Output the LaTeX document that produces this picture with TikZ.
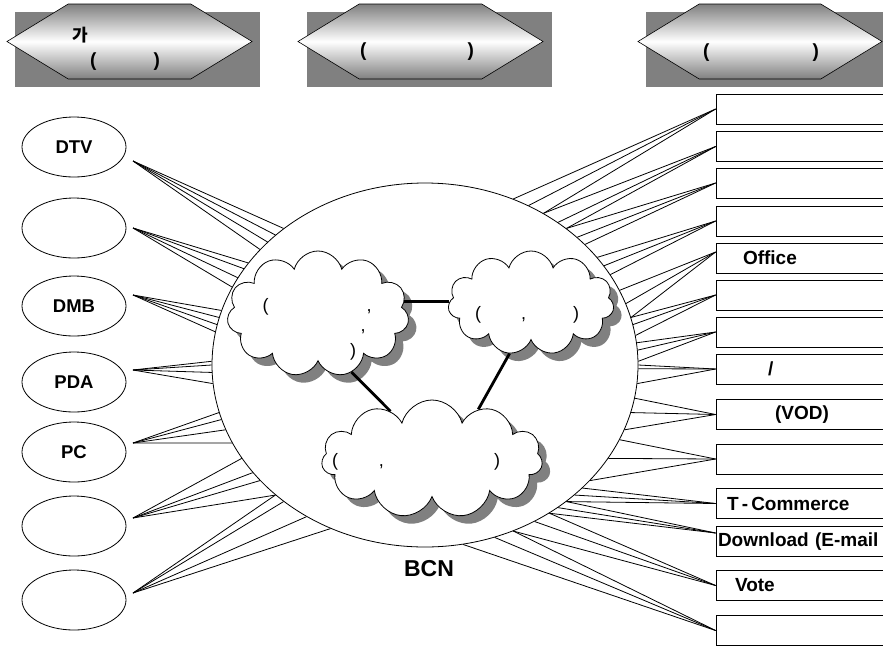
\documentclass[tikz,border=0pt]{standalone}
\usepackage{fontspec}
\setmainfont{Liberation Sans}
\newfontfamily\krfont{Noto Sans CJK KR}
\usepackage{tikz}
\usetikzlibrary{shapes}
\usetikzlibrary{shadows}

\begin{document}
\begin{tikzpicture}[x=1pt,y=-1pt,line width=0.8pt]
\tikzstyle{back}=[fill=gray]
\tikzstyle{hexa}=[signal, signal to=west and east, signal pointer angle=63, draw, line width=0.6pt,
  top color=gray, bottom color=gray, middle color=white, minimum width=245, minimum height=75, inner sep=0]
\tikzstyle{htxt}=[font=\bfseries\fontsize{19}{19}\selectfont, inner sep=0]
\tikzstyle{dev}=[ellipse, draw, minimum width=104, minimum height=60, inner sep=0, font=\bfseries\fontsize{18.5}{18.5}\selectfont]
\tikzstyle{svc}=[rectangle, draw, text width=171, minimum height=30, inner xsep=2, inner ysep=0, align=left, font=\bfseries\fontsize{19}{19}\selectfont]
\tikzstyle{net}=[cloud, cloud puffs=11, cloud ignores aspect, draw, fill=white, inner sep=0,
  drop shadow={shadow xshift=8pt, shadow yshift=-8pt, fill=gray, opacity=1}]
\tikzstyle{ntxt}=[font=\fontsize{18}{18}\selectfont, inner sep=0]
\tikzstyle{link}=[line width=2.8pt]
\useasboundingbox (0,0) rectangle (883,646);

% headers
\fill[back] (15,12) rectangle (260,87);
\fill[back] (307,12) rectangle (552,87);
\fill[back] (646,12) rectangle (890,87);
\node[hexa] (hd1) at (129.5,41.5) {};
\node[hexa] (hd2) at (420.5,41.5) {};
\node[hexa, minimum width=244] (hd3) at (760,41.5) {};
\node[htxt, font=\krfont\bfseries\fontsize{17}{17}\selectfont] at (80,35) {가};
\node[htxt] at (125,62) {(\hspace{57pt})};
\node[htxt] at (417,52) {(\hspace{101pt})};
\node[htxt] at (761,53) {(\hspace{103pt})};

% devices
\node[dev] (dv1) at (74,147) {\raisebox{-10pt}{DTV}};
\node[dev] (dv2) at (74,228) {};
\node[dev] (dv3) at (74,306) {DMB\hspace{24pt}};
\node[dev] (dv4) at (74,382) {PDA};
\node[dev] (dv5) at (74,452) {PC\hspace{8pt}};
\node[dev] (dv6) at (74,526) {};
\node[dev] (dv7) at (74,600) {};
\coordinate (hb1) at (133,161);
\coordinate (hb2) at (133,228);
\coordinate (hb3) at (133,295);
\coordinate (hb4) at (133,370);
\coordinate (hb5) at (133,443);
\coordinate (hb6) at (133,518);
\coordinate (hb7) at (133,593);

% services
\node[svc] (sv1) at (803.5,109) {};
\node[svc] (sv2) at (803.5,146.5) {};
\node[svc] (sv3) at (803.5,183) {};
\node[svc] (sv4) at (803.5,221) {};
\node[svc] (sv5) at (803.5,258) {\hspace*{25pt}Office};
\node[svc] (sv6) at (803.5,295) {};
\node[svc] (sv7) at (803.5,332) {};
\node[svc] (sv8) at (803.5,369) {\hspace*{50pt}/};
\node[svc] (sv9) at (803.5,414.5) {\hspace*{57pt}(VOD)};
\node[svc] (sv10) at (803.5,459) {};
\node[svc] (sv11) at (803.5,503.5) {\hspace*{9pt}T\,-\,Commerce};
\node[svc] (sv12) at (803.5,541.5) {Download (E-mail};
\node[svc] (sv13) at (803.5,585.5) {\hspace*{17pt}Vote};
\node[svc] (sv14) at (803.5,630.5) {};

% network
\node[ellipse, draw, minimum width=426, minimum height=364, inner sep=0] (bcn) at (425,365) {};
\node[font=\bfseries\fontsize{23}{23}\selectfont] (bcnname) at (429,569) {BCN};

\foreach \h/\angs in {hb1/{136,139,142,145}, hb2/{150,152.7,155.2,158.3}, hb3/{165,167,169,171},
    hb4/{179,180.5,182.7,185.4}, hb5/{193.6,195.7,198.4,202.8}, hb6/{207.4,212.2,215,221.2},
    hb7/{221.2,224.2,232.5,240.5}}
  \foreach \a in \angs
    \draw (\h) -- (bcn.\a);

\foreach \s/\dy/\angs in {sv1/0/{62,57,52}, sv2/0/{52,47.5,44}, sv3/0/{44,40.5,37.5}, sv4/0/{32,29,26},
    sv5/6/{21,17,13}, sv6/0/{13.6,11.5,8.8}, sv7/0/{6.7,4.8,1}, sv8/0/{0.8,-1.1,-5.1},
    sv9/0/{-9,-13.3,-18}, sv10/0/{-21.6,-27,-35}, sv11/0/{-38,-41,-44}, sv12/8.5/{-44,-47.7,-50.3},
    sv13/0/{-50.3,-55.7,-62.6}, sv14/0/{-62.6,-68,-78}}
  \foreach \a in \angs
    \draw ([yshift=\dy pt]\s.west) -- (bcn.\a);

\node[net, minimum width=182, minimum height=126] (cl1) at (318,314) {};
\node[net, minimum width=166, minimum height=104] (cl2) at (531,303) {};
\node[net, minimum width=221, minimum height=118] (cl3) at (432,459) {};
\node[ntxt] at (317,307) {(\hspace{98pt},};
\node[ntxt] at (363,332) {,};
\node[ntxt] at (353,352) {)};
\node[ntxt] at (527,315) {(\hspace{40pt},\hspace{47pt})};
\node[ntxt] at (416,462) {(\hspace{41pt},\hspace{110pt})};

\draw[link] (cl1.8) -- (cl1.8 -| cl2.west);
\draw[link] (cl1.-60) -- (cl3.131);
\draw[link] (cl2.247) -- (cl3.47);
\end{tikzpicture}
\end{document}
